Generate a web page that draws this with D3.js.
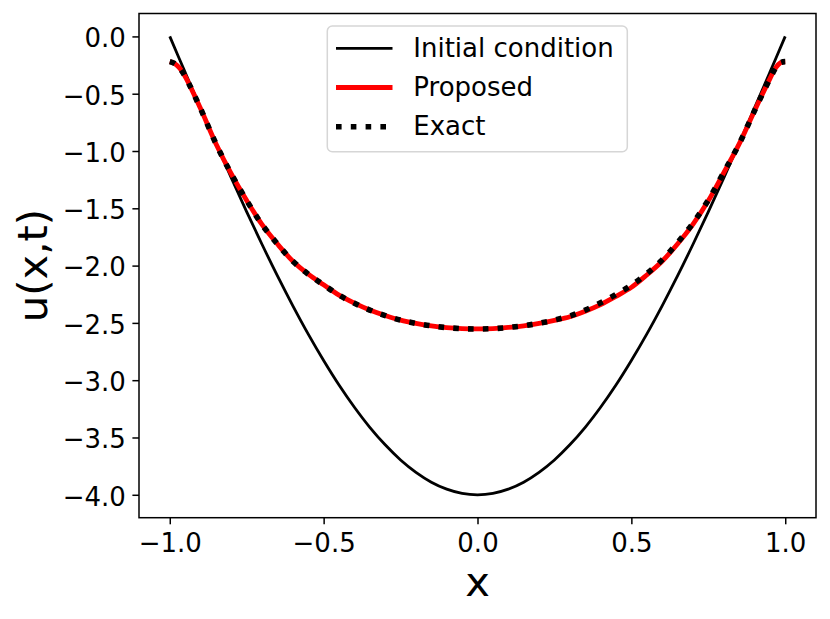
<!DOCTYPE html>
<html>
<head>
<meta charset="utf-8">
<script src="https://cdn.jsdelivr.net/npm/d3@7"></script>
<style>
  html, body { margin: 0; padding: 0; background: #fff; }
  svg { display: block; }
  text { font-family: "DejaVu Sans", sans-serif; fill: #000; }
</style>
</head>
<body>
<svg id="chart" width="830" height="619"></svg>
<script>
// ---- data ----
const initialX = [-1.0,-0.95,-0.9,-0.85,-0.8,-0.75,-0.7,-0.65,-0.6,-0.55,-0.5,-0.45,-0.4,-0.35,-0.3,-0.25,-0.2,-0.15,-0.1,-0.05,0.0,0.05,0.1,0.15,0.2,0.25,0.3,0.35,0.4,0.45,0.5,0.55,0.6,0.65,0.7,0.75,0.8,0.85,0.9,0.95,1.0];
const initialU = [0.0,-0.314,-0.626,-0.934,-1.236,-1.531,-1.816,-2.090,-2.351,-2.598,-2.828,-3.042,-3.236,-3.411,-3.564,-3.696,-3.804,-3.890,-3.951,-3.988,-4.0,-3.988,-3.951,-3.890,-3.804,-3.696,-3.564,-3.411,-3.236,-3.042,-2.828,-2.598,-2.351,-2.090,-1.816,-1.531,-1.236,-0.934,-0.626,-0.314,0.0];

const solX = [-1.0,-0.985,-0.97,-0.95,-0.9,-0.85,-0.8,-0.75,-0.7,-0.65,-0.6,-0.55,-0.5,-0.45,-0.4,-0.35,-0.3,-0.25,-0.2,-0.15,-0.1,-0.05,0.0,0.05,0.1,0.15,0.2,0.25,0.3,0.35,0.4,0.45,0.5,0.55,0.6,0.65,0.7,0.75,0.8,0.85,0.9,0.95,0.97,0.985,1.0];
const proposedU = [-0.22,-0.235,-0.27,-0.35,-0.63,-0.936,-1.20,-1.432,-1.643,-1.812,-1.962,-2.075,-2.168,-2.258,-2.328,-2.388,-2.436,-2.476,-2.504,-2.526,-2.541,-2.550,-2.553,-2.550,-2.540,-2.525,-2.505,-2.478,-2.446,-2.398,-2.340,-2.268,-2.190,-2.082,-1.962,-1.812,-1.640,-1.435,-1.190,-0.940,-0.650,-0.370,-0.270,-0.228,-0.22];
const exactU = [-0.22,-0.235,-0.27,-0.35,-0.63,-0.936,-1.20,-1.432,-1.643,-1.812,-1.962,-2.075,-2.168,-2.258,-2.328,-2.388,-2.436,-2.476,-2.504,-2.526,-2.541,-2.550,-2.553,-2.550,-2.540,-2.525,-2.503,-2.475,-2.440,-2.388,-2.325,-2.252,-2.172,-2.070,-1.950,-1.800,-1.630,-1.428,-1.188,-0.940,-0.650,-0.370,-0.270,-0.228,-0.22];

const xTicks = [-1.0,-0.5,0.0,0.5,1.0];
const yTicks = [0.0,-0.5,-1.0,-1.5,-2.0,-2.5,-3.0,-3.5,-4.0];
const seriesNames = ["Initial condition","Proposed","Exact"];

// ---- layout ----
const svg = d3.select("#chart");
const L = 139, R = 816, T = 13.5, B = 517.7;
const x = d3.scaleLinear().domain([-1.1, 1.1]).range([L, R]);
const y = d3.scaleLinear().domain([-4.2, 0.2]).range([B, T]);
const fmt = v => d3.format(".1f")(v).replace("-", "\u2212");

svg.append("defs").append("clipPath").attr("id","clip")
  .append("rect").attr("x",L).attr("y",T).attr("width",R-L).attr("height",B-T);

const line = d3.line().x(d => x(d[0])).y(d => y(d[1])).curve(d3.curveCatmullRom.alpha(0.5));
const g = svg.append("g").attr("clip-path","url(#clip)");

const styles = [
  {stroke:"#000000", width:2.8, dash:null, cap:"butt"},
  {stroke:"#ff0000", width:4.8, dash:null, cap:"butt"},
  {stroke:"#000000", width:5.6, dash:"5.6,9.2", cap:"butt"}
];
const series = [
  d3.zip(initialX, initialU),
  d3.zip(solX, proposedU),
  d3.zip(solX, exactU)
];
series.forEach((s, i) => {
  g.append("path").datum(s).attr("d", line)
    .attr("fill","none").attr("stroke", styles[i].stroke)
    .attr("stroke-width", styles[i].width)
    .attr("stroke-linecap", styles[i].cap)
    .attr("stroke-linejoin","round")
    .attr("stroke-dasharray", styles[i].dash);
});

// ---- axes ----
const xAxis = d3.axisBottom(x).tickValues(xTicks).tickFormat(fmt).tickSize(6.6).tickPadding(6);
const yAxis = d3.axisLeft(y).tickValues(yTicks).tickFormat(fmt).tickSize(6.6).tickPadding(6.6);

const gx = svg.append("g").attr("transform",`translate(0,${B})`).call(xAxis);
const gy = svg.append("g").attr("transform",`translate(${L},0)`).call(yAxis);
[gx, gy].forEach(a => {
  a.select(".domain").remove();
  a.selectAll(".tick line").attr("stroke","#000").attr("stroke-width",1.5);
  a.selectAll(".tick text").attr("font-family","DejaVu Sans").attr("font-size",26).attr("fill","#000");
});
gx.selectAll(".tick text").attr("dy",null).attr("y",34.3);
gy.selectAll(".tick text").attr("dy",null).attr("y",10.3);

// spines
svg.append("rect").attr("x",L).attr("y",T).attr("width",R-L).attr("height",B-T)
  .attr("fill","none").attr("stroke","#000").attr("stroke-width",1.5);

// axis labels
svg.append("text").attr("x",(L+R)/2).attr("y",596).attr("text-anchor","middle")
  .attr("font-size",41.7).text("x");
svg.append("text").attr("transform",`translate(46.5,${(T+B)/2}) rotate(-90)`)
  .attr("text-anchor","middle").attr("font-size",41.7).text("u(x,t)");

// ---- legend ----
const lg = svg.append("g");
lg.append("rect").attr("x",327.3).attr("y",26).attr("width",300).attr("height",125.7)
  .attr("rx",5).attr("ry",5).attr("fill","#fff").attr("fill-opacity",0.8)
  .attr("stroke","#d6d6d6").attr("stroke-width",1.5);
const rowY = [48.3, 87.5, 126.7];
seriesNames.forEach((name, i) => {
  lg.append("line").attr("x1",336).attr("x2",392.5).attr("y1",rowY[i]).attr("y2",rowY[i])
    .attr("stroke",styles[i].stroke).attr("stroke-width",styles[i].width)
    .attr("stroke-dasharray",styles[i].dash).attr("stroke-linecap","butt");
  lg.append("text").attr("x",413.3).attr("y",rowY[i]+8.5).attr("font-size",26).text(name);
});
</script>
</body>
</html>
